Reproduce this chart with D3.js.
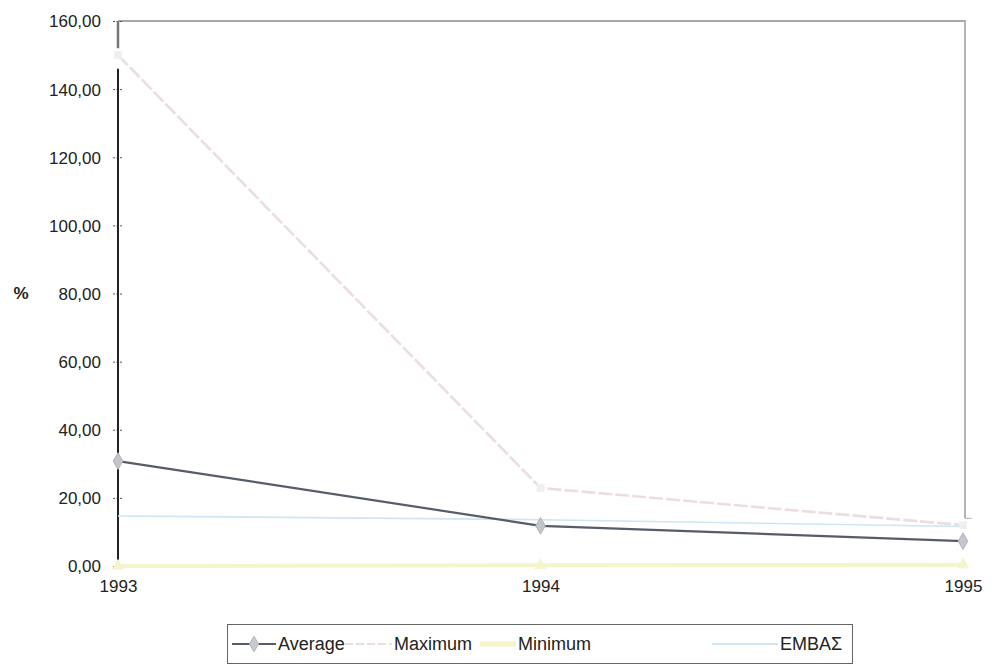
<!DOCTYPE html>
<html><head><meta charset="utf-8">
<script src="https://cdn.jsdelivr.net/npm/d3@7"></script>
<style>
body{margin:0;background:#fff;}
svg{display:block;font-family:"Liberation Sans",Arial,sans-serif;}
</style></head>
<body><svg id="c" width="992" height="666"></svg>
<script>
const years = ["1993","1994","1995"];
const average = [30.8, 11.8, 7.3];
const maximum = [150.0, 22.9, 12.0];
const minimum = [0.0, 0.2, 0.4];
const embas = [14.7, 13.6, 11.6];
const yTicks = [0,20,40,60,80,100,120,140,160];
const seriesNames = ["Average","Maximum","Minimum","ΕΜΒΑΣ"];

const svg = d3.select("#c");
const x = d3.scalePoint().domain(years).range([118, 963]);
const y = d3.scaleLinear().domain([0,160]).range([566, 21]);
const fmt = d => d.toFixed(2).replace(".", ",");

// frame (top + right)
svg.append("line").attr("x1", x("1993")).attr("x2", 966).attr("y1", y(160)).attr("y2", y(160))
  .attr("stroke", "#a8a8a8").attr("stroke-width", 2);
svg.append("line").attr("x1", 965).attr("x2", 965).attr("y1", y(160)).attr("y2", y(14))
  .attr("stroke", "#b4b4b4").attr("stroke-width", 2);
svg.append("line").attr("x1", 965).attr("x2", 972).attr("y1", y(14)).attr("y2", y(14))
  .attr("stroke", "#b4b4b4").attr("stroke-width", 1);

// y axis
const yAxis = d3.axisLeft(y).tickValues(yTicks).tickFormat(fmt).tickSizeInner(5).tickSizeOuter(0);
const gy = svg.append("g").attr("transform", `translate(${x("1993")},0)`).call(yAxis);
gy.select(".domain").remove();
gy.selectAll(".tick line").attr("stroke", "#555").attr("x2", -5).attr("x1", 4).attr("stroke-dasharray", "2,1.5");
gy.selectAll(".tick text").attr("font-size", 17).attr("fill", "#222").attr("x", -17).attr("dy", "0.35em")
  .style("font-family", "Liberation Sans, Arial, sans-serif");
svg.append("line").attr("x1", x("1993")).attr("x2", x("1993")).attr("y1", y(160)).attr("y2", y(152))
  .attr("stroke", "#777").attr("stroke-width", 2.5);
svg.append("line").attr("x1", x("1993")).attr("x2", x("1993")).attr("y1", y(146)).attr("y2", y(1.5))
  .attr("stroke", "#222").attr("stroke-width", 2);

// x axis labels
const xAxis = d3.axisBottom(x).tickSize(0).tickPadding(0);
const gx = svg.append("g").attr("transform", `translate(0,${y(0)})`).call(xAxis);
gx.select(".domain").remove();
gx.selectAll(".tick text").attr("font-size", 17).attr("fill", "#222").attr("y", 14)
  .style("font-family", "Liberation Sans, Arial, sans-serif");

// % label
svg.append("text").attr("x", 21).attr("y", y(80)).attr("dy", "0.35em").attr("text-anchor", "middle")
  .attr("font-size", 17).attr("font-weight", "bold").attr("fill", "#222").text("%");

const line = d3.line().x((d,i) => x(years[i])).y(d => y(d));

const styles = [
  {data: average, color: "#575c69", w: 2.2, dash: null},
  {data: maximum, color: "#ebdde1", w: 2.6, dash: "14,3"},
  {data: minimum, color: "#f4f5c8", w: 4, dash: null},
  {data: embas, color: "#cde6f0", w: 1.6, dash: null}
];

// draw order: minimum, embas, maximum, average
[2,3,1,0].forEach(k => {
  const s = styles[k];
  svg.append("path").datum(s.data).attr("d", line).attr("fill", "none")
    .attr("stroke", s.color).attr("stroke-width", s.w)
    .attr("stroke-dasharray", s.dash);
});

// average markers
svg.selectAll(".avgm").data(average).enter().append("path")
  .attr("transform", (d,i) => `translate(${x(years[i])},${y(d)})`)
  .attr("d", d3.symbol().type(d3.symbolDiamond).size(80))
  .attr("fill", "#c4c6cb").attr("stroke", "#b0b3b9").attr("stroke-width", 1);
// maximum markers (faint)
svg.selectAll(".maxm").data(maximum).enter().append("path")
  .attr("transform", (d,i) => `translate(${x(years[i])},${y(d)})`)
  .attr("d", d3.symbol().type(d3.symbolSquare).size(60))
  .attr("fill", "#efefef");
// minimum markers
svg.selectAll(".minm").data(minimum).enter().append("path")
  .attr("transform", (d,i) => `translate(${x(years[i])},${y(d)})`)
  .attr("d", d3.symbol().type(d3.symbolTriangle).size(70))
  .attr("fill", "#f4f5cc");

// legend
const lg = svg.append("g");
lg.append("rect").attr("x", 227.5).attr("y", 624.5).attr("width", 625).attr("height", 39)
  .attr("fill", "#fff").attr("stroke", "#666").attr("stroke-width", 1);
const legX = [232, 345, 480, 712];
const legW = [44, 47, 36, 66];
seriesNames.forEach((n, k) => {
  const s = styles[k];
  const yy = 644;
  lg.append("line").attr("x1", legX[k]).attr("x2", legX[k] + legW[k]).attr("y1", yy).attr("y2", yy)
    .attr("stroke", s.color).attr("stroke-width", k === 2 ? 5 : 2)
    .attr("stroke-dasharray", k === 1 ? "8,3" : null);
  if (k === 0) {
    lg.append("path").attr("transform", `translate(${legX[k] + legW[k]/2},${yy})`)
      .attr("d", d3.symbol().type(d3.symbolDiamond).size(70))
      .attr("fill", "#c8cacf").attr("stroke", "#b0b3b9");
  }
  lg.append("text").attr("x", legX[k] + legW[k] + 2).attr("y", yy).attr("dy", "0.35em")
    .attr("font-size", 18).attr("fill", "#222").text(n);
});
</script></body></html>
